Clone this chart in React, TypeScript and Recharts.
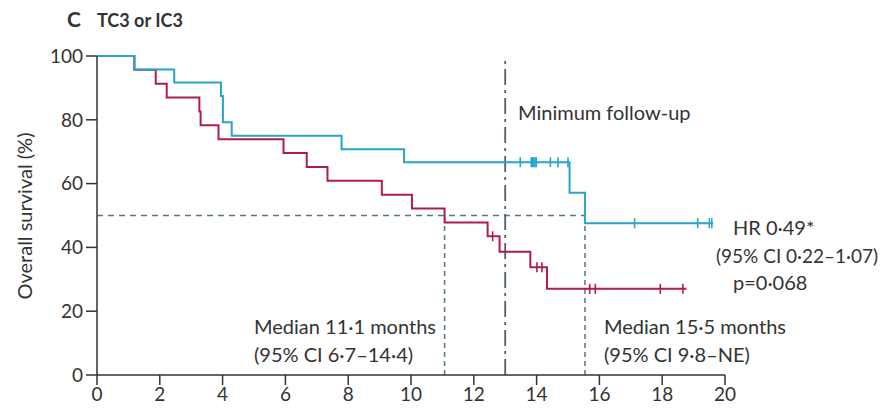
import React from 'react'
import { ComposedChart, Line, XAxis, YAxis, ReferenceLine } from 'recharts'

const FONT = 'Lato, "Open Sans", sans-serif'
const TEXT = '#333'
const BLUE = '#27A5CA'
const RED = '#B01C4F'
const GUIDE = '#56768A'

const xTicks = [0, 2, 4, 6, 8, 10, 12, 14, 16, 18, 20]
const yTicks = [0, 20, 40, 60, 80, 100]

// TC3 or IC3, blue arm (months, % surviving, 1 = censored)
const blueTime = [0, 1.19, 2.46, 3.95, 4.01, 4.29, 7.79, 9.78, 13.48, 13.83, 13.87, 13.91, 13.95, 13.99, 14.44, 14.68, 15.0, 15.05, 15.54, 17.12, 19.13, 19.5, 19.58, 19.62]
const blueSurv = [100, 95.8, 91.7, 87.5, 79.2, 75.0, 70.8, 66.7, 66.7, 66.7, 66.7, 66.7, 66.7, 66.7, 66.7, 66.7, 66.7, 57.1, 47.6, 47.6, 47.6, 47.6, 47.6, 47.6]
const blueCens = [0, 0, 0, 0, 0, 0, 0, 0, 1, 1, 1, 1, 1, 1, 1, 1, 1, 0, 0, 1, 1, 1, 1, 0]

// red arm
const redTime = [0, 1.19, 1.87, 2.22, 3.26, 3.3, 3.87, 5.94, 6.68, 7.34, 9.07, 10.03, 11.07, 12.44, 12.6, 12.82, 13.8, 14.01, 14.17, 14.33, 15.69, 15.87, 17.94, 18.66, 18.77]
const redSurv = [100, 95.7, 91.3, 87.0, 82.6, 78.3, 73.9, 69.6, 65.2, 60.9, 56.5, 52.2, 47.8, 43.5, 43.5, 38.6, 33.8, 33.8, 33.8, 27.0, 27.0, 27.0, 27.0, 27.0, 27.0]
const redCens = [0, 0, 0, 0, 0, 0, 0, 0, 0, 0, 0, 0, 0, 0, 1, 0, 0, 1, 1, 0, 1, 1, 1, 1, 0]

const redMedian = 11.07
const blueMedian = 15.54
const minFollowUp = 13

const toRows = (t: number[], s: number[], c: number[]) =>
  t.map((v, i) => ({ t: v, s: s[i], c: c[i] }))

const blueData = toRows(blueTime, blueSurv, blueCens)
const redData = toRows(redTime, redSurv, redCens)

const censorDot = (color: string) => (props: any) => {
  const { cx, cy, payload, index } = props
  if (!payload || !payload.c) return <g key={`n${index}`} />
  return (
    <line key={`c${index}`} x1={cx} x2={cx} y1={cy - 5} y2={cy + 5}
      stroke={color} strokeWidth={1.6} />
  )
}

const tickStyle = { fontSize: 19, fill: TEXT, fontFamily: FONT }

export default function App() {
  const txt = { fontFamily: FONT, fill: TEXT, fontSize: 20 }
  return (
    <div style={{ position: 'absolute', left: 0, top: 0, width: 894, height: 409, background: '#fff' }}>
      <ComposedChart width={894} height={409}
        margin={{ top: 56, right: 169, bottom: 4, left: 0 }}>
        <XAxis type="number" dataKey="t" domain={[0, 20]} ticks={xTicks}
          allowDataOverflow height={30} tickSize={10} tickMargin={3}
          tick={tickStyle} stroke="#333" strokeWidth={1.5} />
        <YAxis type="number" dataKey="s" domain={[0, 100]} ticks={yTicks}
          width={97} tickSize={11} tickMargin={3}
          tick={tickStyle} stroke="#333" strokeWidth={1.5} />
        <ReferenceLine segment={[{ x: 0, y: 50 }, { x: blueMedian, y: 50 }]}
          stroke={GUIDE} strokeDasharray="6 5" strokeWidth={1.5} />
        <ReferenceLine segment={[{ x: redMedian, y: 0 }, { x: redMedian, y: 50 }]}
          stroke={GUIDE} strokeDasharray="5 4" strokeWidth={1.5} />
        <ReferenceLine segment={[{ x: blueMedian, y: 0 }, { x: blueMedian, y: 50 }]}
          stroke={GUIDE} strokeDasharray="5 4" strokeWidth={1.5} />
        <ReferenceLine x={minFollowUp} stroke="#4E6070"
          strokeDasharray="16 5 3 5" strokeWidth={1.8} />
        <Line data={redData} dataKey="s" type="stepAfter" stroke={RED}
          strokeWidth={2} dot={censorDot(RED)} activeDot={false}
          isAnimationActive={false} />
        <Line data={blueData} dataKey="s" type="stepAfter" stroke={BLUE}
          strokeWidth={2} dot={censorDot(BLUE)} activeDot={false}
          isAnimationActive={false} />
      </ComposedChart>
      <svg width={894} height={409}
        style={{ position: 'absolute', left: 0, top: 0, pointerEvents: 'none' }}>
        <text x={67} y={27} fontFamily={FONT} fontWeight={700} fontSize={21} fill={TEXT}>C</text>
        <text x={97} y={27} fontFamily={FONT} fontWeight={700} fontSize={18} fill={TEXT}>TC3 or IC3</text>
        <text transform="translate(24,216) rotate(-90)" textAnchor="middle"
          dominantBaseline="central" {...txt}>Overall survival (%)</text>
        <text x={518} y={120} {...txt}>Minimum follow-up</text>
        <text x={733} y={235} {...txt}>HR 0·49*</text>
        <text x={716} y={263} {...txt} fontSize={19}>(95% CI 0·22–1·07)</text>
        <text x={733} y={290} {...txt}>p=0·068</text>
        <text x={254} y={334} {...txt}>Median 11·1 months</text>
        <text x={254} y={362} {...txt}>(95% CI 6·7–14·4)</text>
        <text x={604} y={334} {...txt}>Median 15·5 months</text>
        <text x={604} y={362} {...txt}>(95% CI 9·8–NE)</text>
      </svg>
    </div>
  )
}
